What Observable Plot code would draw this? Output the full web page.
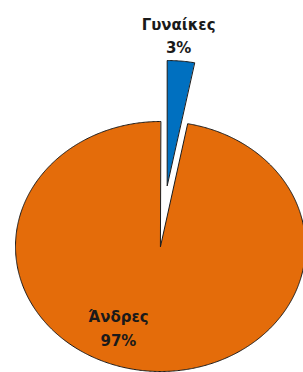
<!DOCTYPE html>
<html>
<head>
<meta charset="utf-8">
<script src="https://cdn.jsdelivr.net/npm/d3@7"></script>
<script src="https://cdn.jsdelivr.net/npm/@observablehq/plot@0.6"></script>
<style>
  html, body { margin: 0; padding: 0; background: #fff; }
  #chart svg { display: block; }
</style>
</head>
<body>
<div id="chart"></div>
<script>
// Data
const categories = ["Γυναίκες", "Άνδρες"];
const values = [3, 97];
const colors = ["#0070C0", "#E46C0A"];

// Layout constants (not data)
const W = 303, H = 372;
const cx = 160, cy = 246, rx = 145, ry = 125;
const explode = { "Γυναίκες": 0.49, "Άνδρες": 0 };
const labelAt = { "Γυναίκες": [0.125, 1.70], "Άνδρες": [-0.29, -0.64] };

const pie = d3.pie().sort(null).value(d => d.value).startAngle(0).endAngle(2 * Math.PI);
const arcs = pie(categories.map((name, i) => ({ name, value: values[i] })));

// Build slice outlines in unit space (y up), sampled along the arc
const pts = [];
for (const a of arcs) {
  const name = a.data.name;
  const mid = (a.startAngle + a.endAngle) / 2;
  const ox = Math.sin(mid) * explode[name];
  const oy = Math.cos(mid) * explode[name];
  pts.push({ name, x: ox, y: oy });
  const n = Math.max(2, Math.ceil((a.endAngle - a.startAngle) / (Math.PI / 360)));
  for (let k = 0; k <= n; k++) {
    const t = a.startAngle + (a.endAngle - a.startAngle) * k / n;
    pts.push({ name, x: ox + Math.sin(t), y: oy + Math.cos(t) });
  }
}

const labels = arcs.map(a => ({
  name: a.data.name,
  text: `${a.data.name}\n${a.data.value}%`,
  x: labelAt[a.data.name][0],
  y: labelAt[a.data.name][1]
}));

const chart = Plot.plot({
  width: W,
  height: H,
  margin: 0,
  x: { domain: [-1, 1], range: [cx - rx, cx + rx], axis: null },
  y: { domain: [-1, 1], range: [cy + ry, cy - ry], axis: null },
  color: { domain: categories, range: colors },
  style: { background: "#fff", overflow: "hidden" },
  marks: [
    Plot.line(pts, {
      x: "x", y: "y", z: "name", fill: "name",
      stroke: "#1a1a1a", strokeWidth: 1, curve: "linear-closed", strokeLinejoin: "miter"
    }),
    Plot.text(labels, {
      x: "x", y: "y", text: "text",
      fontFamily: "DejaVu Sans", fontWeight: "bold", fontSize: 15,
      lineHeight: 1.55, fill: "#1a1a1a"
    })
  ]
});

document.getElementById("chart").appendChild(chart);
</script>
</body>
</html>
